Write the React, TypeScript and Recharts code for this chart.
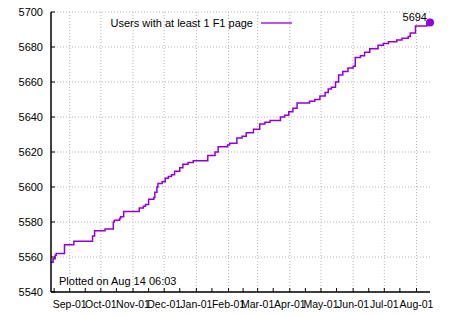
import { LineChart, Line, XAxis, YAxis, CartesianGrid, ReferenceDot, ReferenceLine } from "recharts";

// day 0 = Aug 14, day 365 = Aug 14 of the next year
const DAYS = [
  0, 2, 4, 5, 13, 22, 40, 42, 52, 60, 61, 66, 67, 70, 85, 89, 91, 94, 99, 100, 102, 103, 107, 110, 113, 116,
  119, 124, 127, 132, 137, 151, 158, 161, 170, 172, 179, 184, 188, 195, 201, 206, 211, 221, 225, 229, 233, 237,
  249, 254, 259, 264, 267, 270, 274, 277, 281, 286, 291, 293, 298, 302, 307, 315, 320, 325, 333, 338, 344, 346,
  351, 362, 365,
];
const USERS = [
  5557, 5559, 5561, 5562, 5567, 5569, 5572, 5575, 5576, 5580, 5581, 5582, 5583, 5586, 5588, 5589, 5590, 5593,
  5594, 5597, 5600, 5602, 5603, 5605, 5606, 5607, 5609, 5611, 5613, 5614, 5615, 5618, 5620, 5623, 5624, 5625,
  5628, 5629, 5631, 5633, 5636, 5637, 5638, 5640, 5641, 5643, 5645, 5648, 5649, 5650, 5652, 5654, 5656, 5657,
  5660, 5664, 5666, 5668, 5669, 5674, 5675, 5677, 5679, 5681, 5682, 5683, 5684, 5685, 5686, 5688, 5692, 5693,
  5694,
];
const MONTH_DAYS = [18, 48, 79, 109, 140, 171, 199, 230, 260, 291, 321, 352];
const MONTH_LABELS = ["Sep-01", "Oct-01", "Nov-01", "Dec-01", "Jan-01", "Feb-01", "Mar-01", "Apr-01", "May-01", "Jun-01", "Jul-01", "Aug-01"];
const MID_DAYS = [3, 33, 63, 94, 124, 155, 185, 214, 245, 275, 306, 336];
const Y_TICKS = [5540, 5560, 5580, 5600, 5620, 5640, 5660, 5680, 5700];
const LAST = { day: 365, users: 5694 };

const data = DAYS.map((d, i) => ({ day: d, users: USERS[i] }));
const ALL_X_TICKS = [...MID_DAYS, ...MONTH_DAYS].sort((a, b) => a - b);

const FONT = "'Liberation Sans', Arial, sans-serif";
const PURPLE = "#9400d3";

function BottomTick(props: any) {
  const { x, y, payload } = props;
  const i = MONTH_DAYS.indexOf(payload.value);
  return (
    <g>
      <line x1={x} x2={x} y1={y} y2={y - 4} stroke="#000" />
      {i >= 0 && (
        <text x={x} y={y + 16} textAnchor="middle" fontSize={10.5} fontFamily={FONT} fill="#000">
          {MONTH_LABELS[i]}
        </text>
      )}
    </g>
  );
}

function TopTick(props: any) {
  const { x, y } = props;
  return <line x1={x} x2={x} y1={y} y2={y + 4} stroke="#000" />;
}

function LeftTick(props: any) {
  const { x, y, payload } = props;
  return (
    <g>
      <line x1={x} x2={x + 4} y1={y} y2={y} stroke="#000" />
      <text x={x - 8} y={y + 4} textAnchor="end" fontSize={11} fontFamily={FONT} fill="#000">
        {payload.value}
      </text>
    </g>
  );
}

function RightTick(props: any) {
  const { x, y } = props;
  return <line x1={x} x2={x - 4} y1={y} y2={y} stroke="#000" />;
}

export default function App() {
  return (
    <div style={{ position: "absolute", left: 0, top: 0, width: 450, height: 315, background: "#fff", fontFamily: FONT }}>
      <LineChart width={450} height={315} data={data} margin={{ top: 12, right: 20, bottom: 0, left: 0 }}>
        <CartesianGrid stroke="#b4b4b4" strokeDasharray="1 2" vertical={false} />
        {MONTH_DAYS.map((d) => (
          <ReferenceLine key={d} x={d} stroke="#b4b4b4" strokeDasharray="1 2" />
        ))}
        <XAxis
          dataKey="day"
          type="number"
          domain={[0, 365]}
          ticks={ALL_X_TICKS}
          interval={0}
          height={23}
          tickSize={0}
          tickMargin={0}
          tick={<BottomTick />}
          axisLine={{ stroke: "#000", strokeWidth: 1.5 }}
        />
        <XAxis
          xAxisId="top"
          orientation="top"
          type="number"
          domain={[0, 365]}
          ticks={ALL_X_TICKS}
          interval={0}
          height={0}
          tickSize={0}
          tickMargin={0}
          tick={<TopTick />}
          axisLine={{ stroke: "#000", strokeWidth: 1.5 }}
        />
        <YAxis
          type="number"
          domain={[5540, 5700]}
          ticks={Y_TICKS}
          interval={0}
          width={51}
          tickSize={0}
          tickMargin={0}
          tick={<LeftTick />}
          axisLine={{ stroke: "#000", strokeWidth: 1.5 }}
        />
        <YAxis
          yAxisId="right"
          orientation="right"
          type="number"
          domain={[5540, 5700]}
          ticks={Y_TICKS}
          interval={0}
          width={0}
          tickSize={0}
          tickMargin={0}
          tick={<RightTick />}
          axisLine={{ stroke: "#000", strokeWidth: 1.5 }}
        />
        <Line
          type="stepAfter"
          dataKey="users"
          stroke={PURPLE}
          strokeWidth={1.5}
          dot={false}
          isAnimationActive={false}
        />
        <ReferenceDot
          x={LAST.day}
          y={LAST.users}
          r={4}
          fill={PURPLE}
          stroke="none"
          label={(p: any) => (
            <text x={p.viewBox.x + 1} y={p.viewBox.y + 2} textAnchor="end" fontSize={11} fontFamily={FONT} fill="#000">
              {LAST.users}
            </text>
          )}
        />
      </LineChart>
      <div style={{ position: "absolute", left: 0, top: 17, width: 292, display: "flex", justifyContent: "flex-end", alignItems: "center", fontSize: 11, lineHeight: "13px" }}>
        <span>Users with at least 1 F1 page</span>
        <svg width={39} height={13}>
          <line x1={8} x2={39} y1={6} y2={6} stroke={PURPLE} strokeWidth={1.3} />
        </svg>
      </div>
      <div style={{ position: "absolute", left: 59, top: 275, fontSize: 11, lineHeight: "13px" }}>Plotted on Aug 14 06:03</div>
    </div>
  );
}
